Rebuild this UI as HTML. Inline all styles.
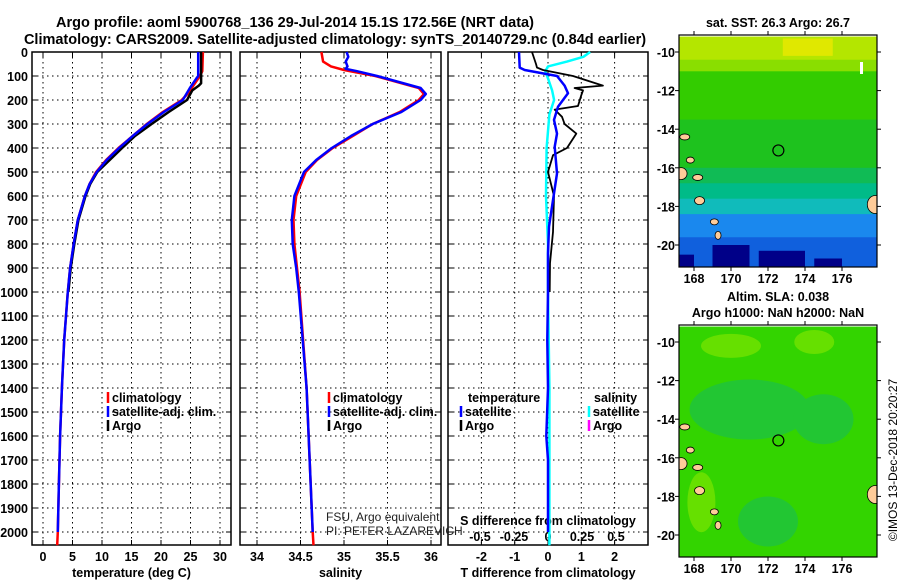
<!DOCTYPE html>
<html><head><meta charset="utf-8"><style>
html,body{margin:0;padding:0;background:#fff;}
svg{display:block;font-family:"Liberation Sans",sans-serif;}
.b{font-weight:bold;font-size:12.5px;}
.t{font-weight:bold;font-size:14.5px;}
</style></head><body>
<svg id="fig" width="900" height="580" viewBox="0 0 900 580" xmlns="http://www.w3.org/2000/svg">
<text class="t" x="295" y="27" text-anchor="middle">Argo profile: aoml 5900768_136 29-Jul-2014 15.1S 172.56E (NRT data)</text>
<text class="t" x="335" y="44" text-anchor="middle">Climatology: CARS2009. Satellite-adjusted climatology: synTS_20140729.nc (0.84d earlier)</text>
<g id="maps"></g>
<g id="panels"></g>
</svg>
<script>
// ---------- data ----------
const depthTicks=[0,100,200,300,400,500,600,700,800,900,1000,1100,1200,1300,1400,1500,1600,1700,1800,1900,2000];
const tempTicks=[0,5,10,15,20,25,30];
const salTicks=[34,34.5,35,35.5,36];
const tdiffTicks=[-2,-1,0,1,2];
const sdiffTicks=[-0.5,-0.25,0,0.25,0.5];
const latTicks=[-10,-12,-14,-16,-18,-20];
const lonTicks=[168,170,172,174,176];

const climDepth=[0,80,100,150,170,200,250,300,350,400,450,500,550,600,700,800,900,1000,1200,1400,1600,1800,2000,2055];
const climTemp=[27.1,27.0,26.6,25.2,24.7,23.5,20.3,17.6,15.2,12.8,10.7,9.0,7.9,7.1,5.9,5.2,4.6,4.2,3.6,3.2,2.9,2.7,2.5,2.4];
const satDepth=[0,100,110,150,200,250,300,350,400,450,500,550,600,700,800,900,1000,1200,1400,1600,1800,2000];
const satTemp=[26.3,26.3,26.0,24.9,23.7,20.5,17.7,15.2,12.9,10.8,9.1,7.9,7.1,5.9,5.2,4.6,4.2,3.6,3.2,2.9,2.7,2.5];
const argoDepth=[0,130,140,160,200,250,300,350,400,450,500,550,600,700,800,900,1000];
const argoTemp=[26.8,26.8,26.4,25.3,24.4,21.3,18.4,15.6,13.4,11.3,9.2,8.0,7.2,6.0,5.3,4.7,4.3];

const climSalDepth=[0,40,60,75,100,150,175,200,250,300,350,400,450,500,600,700,800,900,1000,1400,2000,2055];
const climSal=[34.74,34.76,34.85,35.0,35.36,35.86,35.92,35.86,35.64,35.33,35.1,34.87,34.69,34.56,34.45,34.42,34.43,34.46,34.49,34.57,34.64,34.65];
const satSalDepth=[0,20,40,60,70,80,100,150,175,200,250,300,350,400,450,500,600,700,800,900,1000,1400,2000];
const satSal=[35.03,35.05,35.02,35.04,35.02,35.15,35.38,35.88,35.94,35.88,35.66,35.33,35.08,34.86,34.68,34.54,34.43,34.40,34.41,34.45,34.48,34.57,34.64];

const tdSatDepth=[0,65,75,100,140,172,228,283,340,395,506,617,728,839,1000,1200,1400,1600,1700,2000];
const tdSat=[-0.87,-0.85,-0.7,0.27,0.5,0.6,0.3,0.18,0.27,0.2,0.27,0.15,0.03,0,0,-0.02,0,-0.05,0,0];
const tdArgoDepth=[0,50,65,75,100,140,150,160,180,225,240,270,300,340,400,430,500,600,750,880,1000];
const tdArgo=[-0.48,-0.36,-0.33,-0.15,0.75,1.65,0.8,1.05,1.0,0.9,0.2,0.42,0.5,0.85,0.57,0.15,0,0.18,0.15,0.06,0.05];
const sdSatDepth=[0,20,40,60,80,110,160,200,260,400,600,800,1000,1400,2055];
const sdSat=[0.31,0.26,0.14,0,-0.02,0,0.03,0.045,0.01,-0.01,-0.015,0,0,0.01,0.01];

// ---------- helpers ----------
const NS='http://www.w3.org/2000/svg';
function mk(tag,attrs,parent){const e=document.createElementNS(NS,tag);for(const k in attrs)e.setAttribute(k,attrs[k]);parent.appendChild(e);return e;}
const yD=d=>52+d*0.24;
const xT=t=>43+t*5.9;
const xS=s=>257+(s-34)*87;
const xTD=v=>548+v*33.3;
const xSD=v=>548+v*136;
const P=document.getElementById('panels');
const M=document.getElementById('maps');
const pTop=52,pBot=545;
const panels=[{l:32,r:231,x:xT,ticks:tempTicks,title:'temperature (deg C)',name:'temperature'},
{l:240,r:441,x:xS,ticks:salTicks,title:'salinity',name:'salinity'},
{l:448,r:648,x:xTD,ticks:tdiffTicks,title:'T difference from climatology',name:'difference'}];

panels.forEach(p=>{
  const g=mk('g',{},P);
  
  
  depthTicks.forEach(d=>{const l=mk('line',{x1:p.l,x2:p.r,y1:yD(d),y2:yD(d),stroke:'#000','stroke-width':1,'stroke-dasharray':'1.5,3.5'},g);
    
    
    mk('line',{x1:p.l,x2:p.l+5,y1:yD(d),y2:yD(d),stroke:'#000'},g);mk('line',{x1:p.r-5,x2:p.r,y1:yD(d),y2:yD(d),stroke:'#000'},g);});
  p.ticks.forEach(t=>{const x=p.x(t);const l=mk('line',{x1:x,x2:x,y1:pTop,y2:pBot,stroke:'#000','stroke-width':1,'stroke-dasharray':'1.5,3.5'},g);
    
    
    mk('line',{x1:x,x2:x,y1:pBot-5,y2:pBot,stroke:'#000'},g);mk('line',{x1:x,x2:x,y1:pTop,y2:pTop+5,stroke:'#000'},g);
    const tx=mk('text',{x:x,y:561,'text-anchor':'middle',class:'b'},g);tx.textContent=t;
    
    });
  const r=mk('rect',{x:p.l,y:pTop,width:p.r-p.l,height:pBot-pTop,fill:'none',stroke:'#000','stroke-width':1.5},g);
  
  
  const tt=mk('text',{x:(p.l+p.r)/2,y:577,'text-anchor':'middle',class:'b'},g);tt.textContent=p.title;
  
  
});
depthTicks.forEach(d=>{const tx=mk('text',{x:28,y:yD(d)+5,'text-anchor':'end',class:'b'},P);tx.textContent=d;
  
  });
const st=mk('text',{x:548,y:525,'text-anchor':'middle',class:'b'},P);st.textContent='S difference from climatology';


sdiffTicks.forEach(v=>{const tx=mk('text',{x:xSD(v),y:541,'text-anchor':'middle',class:'b'},P);tx.textContent=v;
  
  });

function drawLine(xs,ds,xf,col,name,w){const pts=xs.map((v,i)=>xf(v).toFixed(1)+','+yD(ds[i]).toFixed(1)).join(' ');
  const e=mk('polyline',{points:pts,fill:'none',stroke:col,'stroke-width':w||2.5,'stroke-linejoin':'round'},P);
  
  }
drawLine(climTemp,climDepth,xT,'#f00','climatology-temp-line');
drawLine(argoTemp,argoDepth,xT,'#000','argo-temp-line');
drawLine(satTemp,satDepth,xT,'#00f','satellite-temp-line');
drawLine(climSal,climSalDepth,xS,'#f00','climatology-salinity-line');
drawLine(satSal,satSalDepth,xS,'#00f','satellite-salinity-line');
drawLine(sdSat,sdSatDepth,xSD,'#0ff','satellite-s-diff-line');
drawLine(tdArgo,tdArgoDepth,xTD,'#000','argo-t-diff-line',1.8);
drawLine(tdSat,tdSatDepth,xTD,'#00f','satellite-t-diff-line');

function legend(x,y,col,label,name){if(col){const l=mk('line',{x1:x,x2:x,y1:y-10,y2:y+1,stroke:col,'stroke-width':2.5},P);
  
  }
  const t=mk('text',{x:x+4,y:y,class:'b'},P);t.textContent=label;
  
  }
legend(108,402,'#f00','climatology','legend-climatology');
legend(108,416,'#00f','satellite-adj. clim.','legend-satellite');
legend(108,430,'#000','Argo','legend-argo');
legend(329,402,'#f00','climatology','legend-climatology-2');
legend(329,416,'#00f','satellite-adj. clim.','legend-satellite-2');
legend(329,430,'#000','Argo','legend-argo-2');
legend(464,402,null,'temperature','legend-temperature-title');
legend(461,416,'#00f','satellite','legend-t-satellite');
legend(461,430,'#000','Argo','legend-t-argo');
legend(590,402,null,'salinity','legend-salinity-title');
legend(589,416,'#0ff','satellite','legend-s-satellite');
legend(589,430,'#f0f','Argo','legend-s-argo');
[['FSU, Argo equivalent',521],['PI: PETER LAZAREVICH',535]].forEach(a=>{const t=mk('text',{x:326,y:a[1],'font-size':'12px',fill:'#222'},P);t.textContent=a[0];
  
  });

// ---------- maps ----------
const mapL=679,mapR=877;
const lonX=l=>694+(l-168)*18.5;
const sstBands=[[-9.2,-10.4,'#b4e600'],[-10.4,-11.0,'#8ade00'],[-11.0,-13.5,'#33cc00'],[-13.5,-16.0,'#1ec21e'],[-16.0,-16.8,'#10bb55'],[-16.8,-17.6,'#00bb88'],[-17.6,-18.4,'#10bbbb'],[-18.4,-19.6,'#1a88ee'],[-19.6,-21.2,'#1060dd']];
const slaBands=[[-9.2,-21.2,'#33d400']];
const islands=[[-14.4,167.5,5,3],[-15.6,167.8,4,3],[-16.3,167.3,6,6],[-16.5,168.2,5,3],[-17.7,168.3,5,4],[-18.8,169.1,4,3],[-19.5,169.3,3,4],[-17.9,177.8,8,9]];
function drawMap(y0,latY,bands,name,title){
  const g=mk('g',{},M);
  
  
  const y1=y0+232;
  const cp=mk('clipPath',{id:name+'-clip'},g);mk('rect',{x:mapL,y:y0,width:mapR-mapL,height:y1-y0},cp);
  const inner=mk('g',{'clip-path':'url(#'+name+'-clip)'},g);
  bands.forEach(b=>mk('rect',{x:mapL,y:latY(b[0]),width:mapR-mapL,height:latY(b[1])-latY(b[0])+1,fill:b[2]},inner));
  if(name==='sst-map'){
    [[-20.0,169,171,'#000088',-21.2],[-20.3,171.5,174,'#000088',-21.2],[-20.5,167.2,168,'#000088',-21.2],[-20.7,174.5,176,'#000088',-21.2],[-9.3,172.8,175.5,'#e0e800',-10.2]].forEach(p=>
      mk('rect',{x:lonX(p[1]),y:latY(p[0]),width:lonX(p[2])-lonX(p[1]),height:latY(p[4])-latY(p[0]),fill:p[3]},inner));
    mk('rect',{x:860,y:62,width:3,height:12,fill:'#fff'},inner);
  } else {
    [[171,-13.5,60,30],[172,-19.3,30,25],[175,-14,30,25]].forEach(e=>mk('ellipse',{cx:lonX(e[0]),cy:latY(e[1]),rx:e[2],ry:e[3],fill:'#22c633'},inner));
    [[170,-10.2,30,12],[174.5,-10,20,12],[168.4,-18.3,14,30]].forEach(e=>mk('ellipse',{cx:lonX(e[0]),cy:latY(e[1]),rx:e[2],ry:e[3],fill:'#66e000'},inner));
  }
  islands.forEach(i=>{const e=mk('ellipse',{cx:lonX(i[1]),cy:latY(i[0]),rx:i[2],ry:i[3],fill:'#ffcc99',stroke:'#000','stroke-width':0.8},inner);
    
    });
  const c=mk('circle',{cx:lonX(172.56),cy:latY(-15.1),r:5.5,fill:'none',stroke:'#000','stroke-width':1.2},g);
  
  
  mk('rect',{x:mapL,y:y0,width:mapR-mapL,height:y1-y0,fill:'none',stroke:'#000','stroke-width':1.2},g);
  latTicks.forEach(l=>{const y=latY(l);mk('line',{x1:mapR,x2:mapR+4,y1:y,y2:y,stroke:'#000'},g);mk('line',{x1:mapL-4,x2:mapL,y1:y,y2:y,stroke:'#000'},g);
    const t=mk('text',{x:675,y:y+5,'text-anchor':'end',class:'b'},g);t.textContent=l;
    
    });
  lonTicks.forEach(l=>{const x=lonX(l);mk('line',{x1:x,x2:x,y1:y1,y2:y1+4,stroke:'#000'},g);mk('line',{x1:x,x2:x,y1:y0-4,y2:y0,stroke:'#000'},g);
    const t=mk('text',{x:x,y:y1+16,'text-anchor':'middle',class:'b'},g);t.textContent=l;
    
    });
  title.forEach((s,i)=>{const t=mk('text',{x:778,y:y0-(title.length-1-i)*16-8,'text-anchor':'middle',class:'b'},g);t.textContent=s;
    
    });
}
drawMap(35,l=>52+(-10-l)*19.3,sstBands,'sst-map',['sat. SST: 26.3 Argo: 26.7']);
drawMap(325,l=>342+(-10-l)*19.3,slaBands,'sla-map',['Altim. SLA: 0.038','Argo h1000: NaN h2000: NaN']);
const im=mk('text',{x:0,y:0,'font-size':'12px',transform:'translate(897,460) rotate(-90)','text-anchor':'middle'},M);
im.textContent='©IMOS 13-Dec-2018 20:20:27';


</script>
</body></html>
